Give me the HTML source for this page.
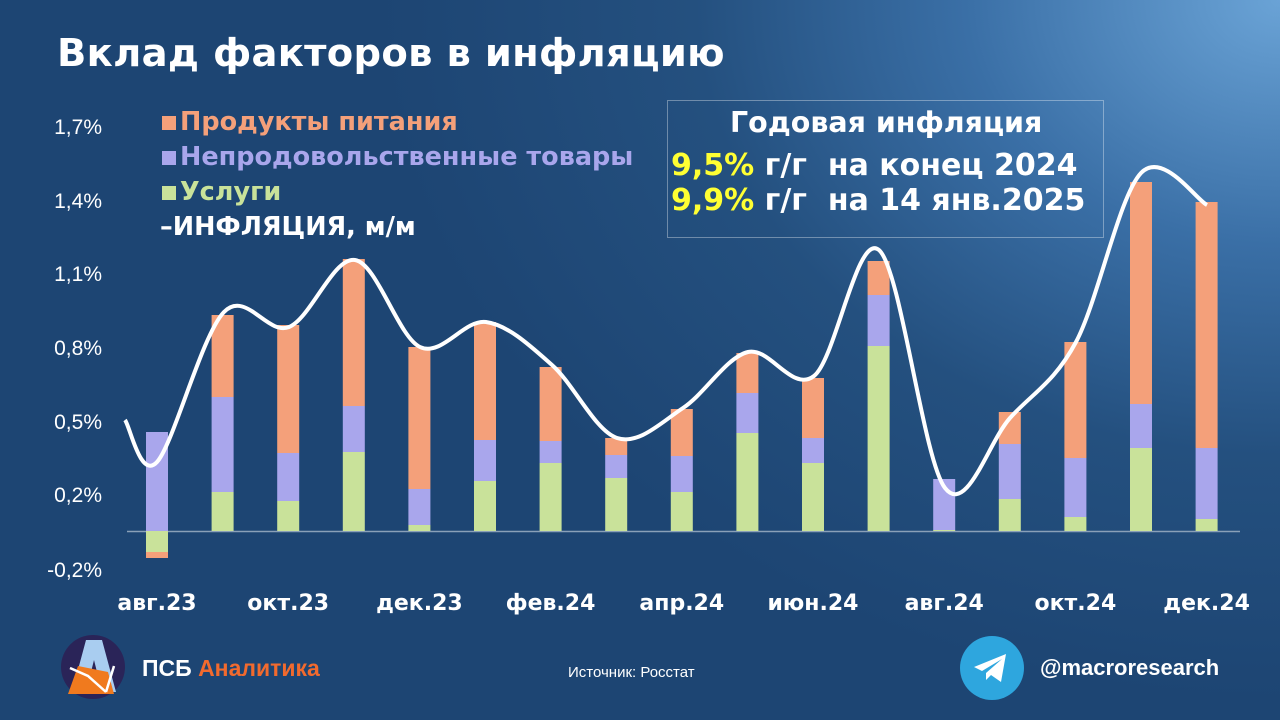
<!DOCTYPE html>
<html><head><meta charset="utf-8">
<style>
html,body{margin:0;padding:0;}
body{width:1280px;height:720px;overflow:hidden;position:relative;font-family:"Liberation Sans","DejaVu Sans",sans-serif;
background:radial-gradient(ellipse 900px 700px at 1280px 0px,#6aa3d6 0%,#3a6fa6 35%,#24507f 65%,#1d4573 100%);}
.t{position:absolute;color:#fff;white-space:nowrap;}
</style></head><body>
<div class="t" style="left:57px;top:31px;font-size:38.5px;font-weight:bold;font-family:'DejaVu Sans',sans-serif;letter-spacing:0.3px">Вклад факторов в инфляцию</div>
<div style="position:absolute;left:667px;top:100px;width:435px;height:136px;border:1px solid rgba(255,255,255,0.35);"></div>
<div class="t" style="left:730px;top:106px;font-size:28.5px;font-weight:bold;font-family:'DejaVu Sans',sans-serif">Годовая инфляция</div>
<div class="t" style="left:671px;top:148px;font-size:30px;font-weight:bold;font-family:'DejaVu Sans',sans-serif"><span style="color:#ffff33">9,5%</span> г/г&nbsp; на конец 2024</div>
<div class="t" style="left:671px;top:183px;font-size:30px;font-weight:bold;font-family:'DejaVu Sans',sans-serif"><span style="color:#ffff33">9,9%</span> г/г&nbsp; на 14 янв.2025</div>
<div class="t" style="left:162px;top:107px;font-size:25.5px;font-weight:bold;color:#f4a07a;font-family:'DejaVu Sans',sans-serif"><span style="display:inline-block;width:14px;height:14px;background:#f4a07a;margin-right:4px"></span>Продукты питания</div>
<div class="t" style="left:162px;top:142px;font-size:25.5px;font-weight:bold;color:#a9a6ec;font-family:'DejaVu Sans',sans-serif"><span style="display:inline-block;width:14px;height:14px;background:#a9a6ec;margin-right:4px"></span>Непродовольственные товары</div>
<div class="t" style="left:162px;top:177px;font-size:25.5px;font-weight:bold;color:#c9e29a;font-family:'DejaVu Sans',sans-serif"><span style="display:inline-block;width:14px;height:14px;background:#c9e29a;margin-right:4px"></span>Услуги</div>
<div class="t" style="left:160px;top:212px;font-size:25.5px;font-weight:bold;font-family:'DejaVu Sans',sans-serif">–ИНФЛЯЦИЯ, м/м</div>
<svg id="s" width="1280" height="720" style="position:absolute;left:0;top:0"></svg>
<div class="t" style="left:568px;top:664px;font-size:15px">Источник: Росстат</div>
<svg width="70" height="70" style="position:absolute;left:58px;top:632px" viewBox="0 0 70 70">
<circle cx="35" cy="35" r="32" fill="#2a2458"/>
<path d="M14 60 L28 8 L44 8 L58 60 L44 60 L36 28 L28 60Z" fill="#a9cdf0"/>
<path d="M10 62 L20 34 L50 40 L56 62Z" fill="#f07a1e"/>
<path d="M12 36 L30 44 L48 60 M48 60 L56 34" stroke="#fff" stroke-width="2.5" fill="none"/>
</svg>
<div class="t" style="left:142px;top:655px;font-size:23px;font-weight:bold">ПСБ <span style="color:#f26a2e">Аналитика</span></div>
<svg width="64" height="64" style="position:absolute;left:960px;top:636px" viewBox="0 0 64 64">
<circle cx="32" cy="32" r="32" fill="#2ea6de"/>
<path d="M14 31 L46 18 L41 46 L31 39 L26 44 L26 37 L42 23 L22 35Z" fill="#fff"/>
</svg>
<div class="t" style="left:1040px;top:655px;font-size:22px;font-weight:bold">@macroresearch</div>
<script>
var s=document.getElementById('s'),h='';
var ylab=[['1,7%',126],['1,4%',200],['1,1%',273],['0,8%',347],['0,5%',421],['0,2%',494],['-0,2%',569]];
ylab.forEach(function(l){h+='<text x="102" y="'+(l[1]+8)+'" fill="#fff" font-size="21" text-anchor="end" font-family="Liberation Sans">'+l[0]+'</text>';});
var xl=['авг.23','окт.23','дек.23','фев.24','апр.24','июн.24','авг.24','окт.24','дек.24'];
var cx=[],st=65.6;for(var i=0;i<17;i++)cx.push(157+i*st);
xl.forEach(function(t,i){h+='<text x="'+cx[i*2]+'" y="610" fill="#fff" font-size="22" font-weight="bold" text-anchor="middle" font-family="DejaVu Sans">'+t+'</text>';});
h+='<line x1="127" y1="531.5" x2="1240" y2="531.5" stroke="#8aa0b8" stroke-width="1.5"/>';
var B=[[[531,552],[432,531],[552,558]],[[492,531],[397,492],[315,397]],[[501,531],[453,501],[325,453]],[[452,531],[406,452],[259,406]],[[525,531],[489,525],[347,489]],[[481,531],[440,481],[322,440]],[[463,531],[441,463],[367,441]],[[478,531],[455,478],[438,455]],[[492,531],[456,492],[409,456]],[[433,531],[393,433],[353,393]],[[463,531],[438,463],[378,438]],[[346,531],[295,346],[261,295]],[[530,531],[479,530],[479,479]],[[499,531],[444,499],[412,444]],[[517,531],[458,517],[342,458]],[[448,531],[404,448],[182,404]],[[519,531],[448,519],[202,448]]];
var col=['#c9e29a','#a9a6ec','#f4a07a'];
B.forEach(function(b,i){b.forEach(function(r,j){h+='<rect x="'+(cx[i]-11)+'" y="'+r[0]+'" width="22" height="'+(r[1]-r[0])+'" fill="'+col[j]+'"/>';});});
var P=[[125,420],[157,462],[224,312],[289,327],[355,260],[420,347],[486,322],[552,365],[617,438],[683,408],[748,352],[814,376],[879,250],[945,488],[1010,418],[1076,342],[1141,173],[1207,205]];
var d='M'+P[0][0]+' '+P[0][1];
for(var i=0;i<P.length-1;i++){var p0=P[Math.max(i-1,0)],p1=P[i],p2=P[i+1],p3=P[Math.min(i+2,P.length-1)];
d+=' C'+(p1[0]+(p2[0]-p0[0])/6)+' '+(p1[1]+(p2[1]-p0[1])/6)+' '+(p2[0]-(p3[0]-p1[0])/6)+' '+(p2[1]-(p3[1]-p1[1])/6)+' '+p2[0]+' '+p2[1];}
h+='<path d="'+d+'" fill="none" stroke="#fff" stroke-width="4"/>';
s.innerHTML=h;
</script>
</body></html>
